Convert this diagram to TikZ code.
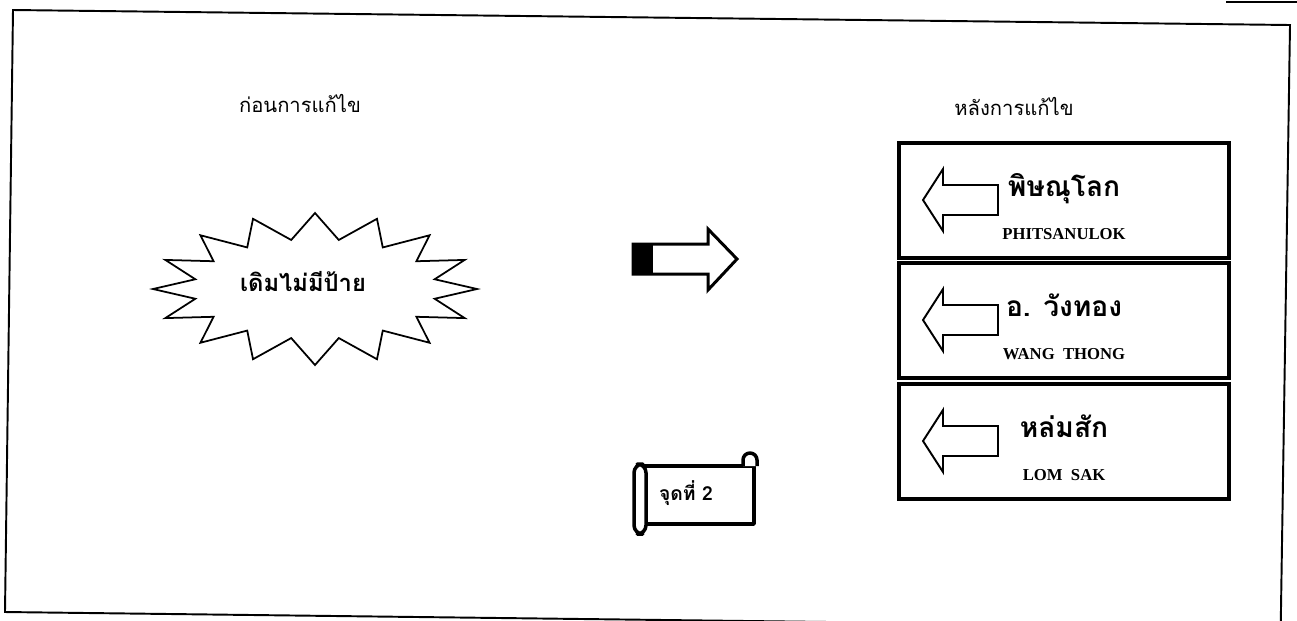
\documentclass[tikz,border=0pt]{standalone}
\usepackage{fontspec}
\setmainfont{Liberation Serif}
\newfontfamily\thaifont[Script=Thai]{Loma}
\usetikzlibrary{calc}
\tikzset{
  frameline/.style={line width=1.1pt},
  signbox/.style={line width=1.8pt},
  signarrow/.style={line width=1.1pt, line join=miter},
  burstline/.style={line width=1pt, line join=miter},
  blockarrow/.style={line width=1.7pt, line join=miter},
  scrollline/.style={line width=2pt, line join=round},
  title/.style={font=\thaifont\fontsize{11.5}{13}\selectfont, anchor=base},
  thname/.style={font=\thaifont\bfseries\fontsize{16}{18}\selectfont, anchor=base},
  enname/.style={font=\bfseries\fontsize{9.5}{11}\selectfont, anchor=base},
}
\begin{document}
\begin{tikzpicture}[x=0.02cm, y=-0.02cm]
    \useasboundingbox (0,0) rectangle (1297,620);
    % กรอบ
    \draw[frameline] (830,622) -- (5,612) -- (13,10) -- (1290,25) -- (1280.5,640);
    \draw[line width=0.8pt] (1226,2) -- (1297,2);
    % หัวข้อ
    \node[title] (before) at (300,112) {ก่อนการแก้ไข};
    \node[title] (after) at (1014,115) {หลังการแก้ไข};
    % ก่อนการแก้ไข
    \coordinate (burstc) at (315,289);
    \draw[burstline] ($(burstc)+({-11.25}:122 and 50)$)
        \foreach \a in {0,22.5,...,337.5} {
            -- ($(burstc)+(\a:162 and 76)$) -- ($(burstc)+({\a+11.25}:122 and 50)$)
        } -- cycle;
    \node[font=\thaifont\bfseries\fontsize{13.5}{15}\selectfont, anchor=base] (nosign) at (303,291) {เดิมไม่มีป้าย};
    % ลูกศร
    \fill (633,244) rectangle (653,274);
    \draw[blockarrow] (633,244) -- (708,244) -- (708,229) -- (737,259) -- (708,290) -- (708,274) -- (633,274) -- cycle;
    % จุดที่ 2
    \draw[scrollline] (641,466) rectangle (754,524);
    \draw[scrollline, fill=white] (743,466) -- (743,460) arc (180:360:7) -- (757,466);
    \draw[scrollline, fill=white, rounded corners=5] (634,464) rectangle (646,534);
    \node[font=\thaifont\bfseries\fontsize{11}{13}\selectfont, anchor=base] (spot) at (686,500) {จุดที่ 2};
    % หลังการแก้ไข
    \foreach \ty/\th/\en [count=\i] in {143/พิษณุโลก/PHITSANULOK, 263/อ. วังทอง/WANG\ \ THONG, 384/หล่มสัก/LOM\ \ SAK} {
        \draw[signbox] (899,\ty) rectangle (1229,\ty+115);
        \draw[signarrow] (923,\ty+57) -- ++(20,-31) -- ++(0,16) -- ++(55,0) -- ++(0,30) -- ++(-55,0) -- ++(0,16) -- cycle;
        \node[thname] (sign\i) at (1064,\ty+53) {\th};
        \node[enname] (sign\i en) at (1064,\ty+96) {\en};
    }
\end{tikzpicture}
\end{document}
